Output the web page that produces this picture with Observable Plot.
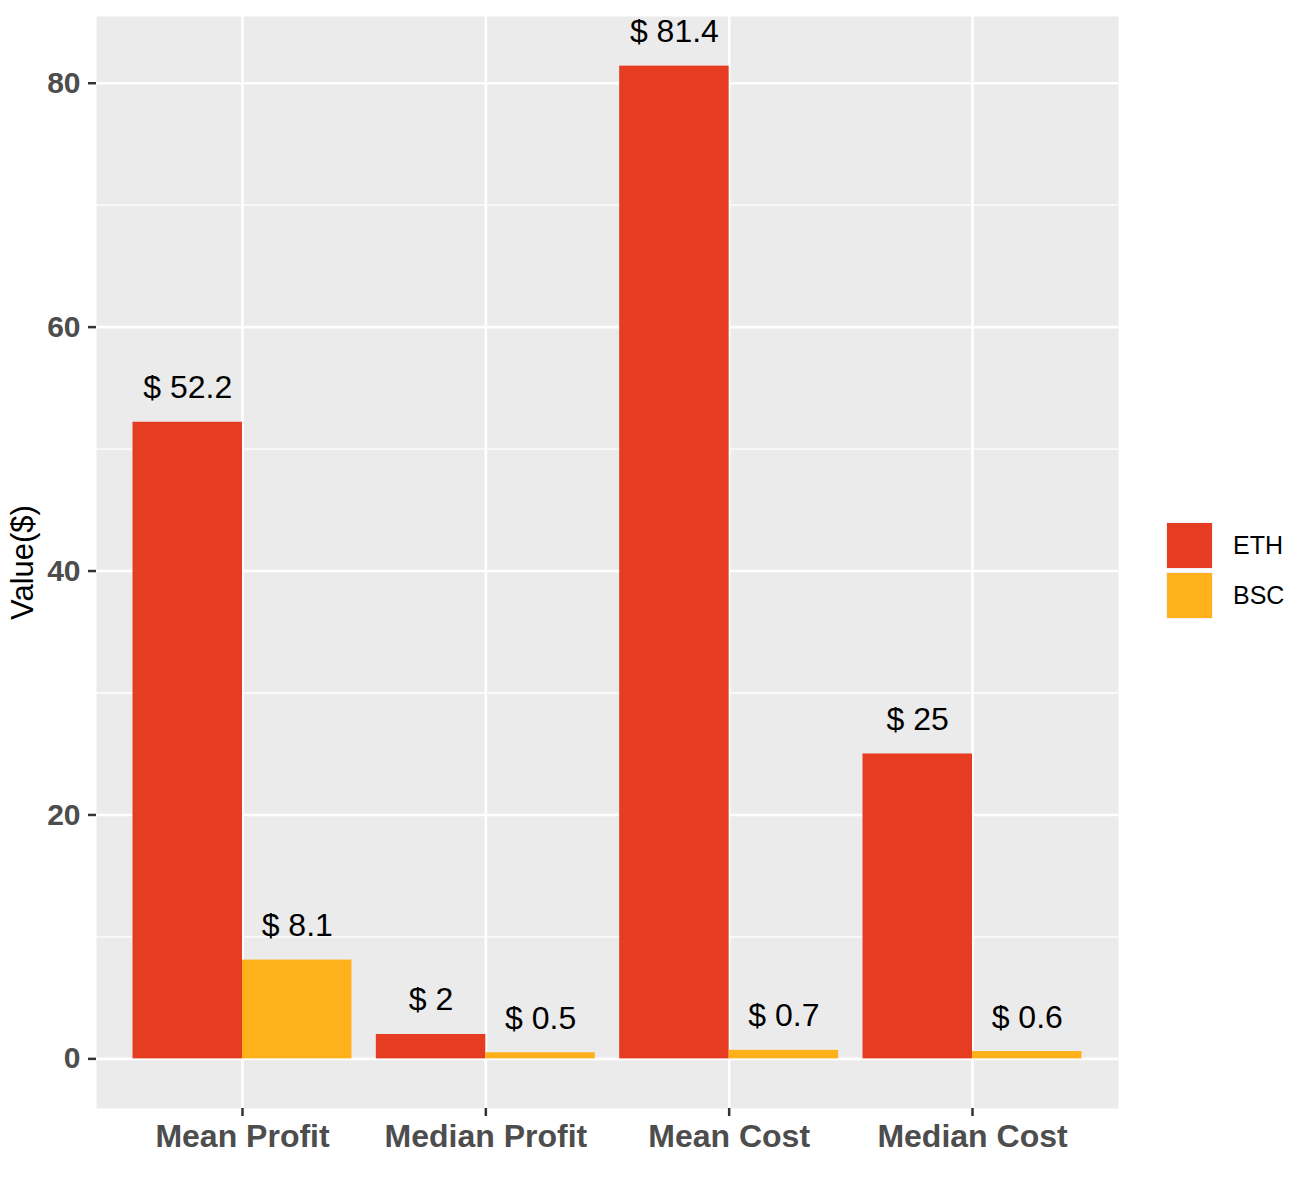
<!DOCTYPE html>
<html>
<head>
<meta charset="utf-8">
<script src="https://cdn.jsdelivr.net/npm/d3@7"></script>
<script src="https://cdn.jsdelivr.net/npm/@observablehq/plot@0.6"></script>
<style>
  html, body { margin: 0; padding: 0; background: white; }
  #wrap { position: relative; width: 1300px; height: 1190px; font-family: "Liberation Sans", Arial, Helvetica, sans-serif; }
  #legend { position: absolute; left: 1166px; top: 520px; }
  .item { display: flex; align-items: center; height: 50px; }
  .key { width: 45px; height: 45px; border: 1.5px solid #F2F2F2; box-sizing: content-box; }
  .lab { margin-left: 20px; font-size: 25px; color: #000; }
</style>
</head>
<body>
<div id="wrap"></div>
<script>
const categories = ["Mean Profit", "Median Profit", "Mean Cost", "Median Cost"];
const chains = ["ETH", "BSC"];
const ethValues = [52.2, 2, 81.4, 25];
const bscValues = [8.1, 0.5, 0.7, 0.6];
const colors = ["#E63C22", "#FEB11A"];
const yTicks = [0, 20, 40, 60, 80];
const yMinor = [10, 30, 50, 70];
const xTicks = [1, 2, 3, 4];

const rows = categories.flatMap((c, i) => [
  {category: c, pos: i + 1, chain: "ETH", value: ethValues[i]},
  {category: c, pos: i + 1, chain: "BSC", value: bscValues[i]}
]);
const half = 0.45;
const left = d => d.chain === "ETH" ? d.pos - half : d.pos;
const right = d => d.chain === "ETH" ? d.pos : d.pos + half;
const mid = d => (left(d) + right(d)) / 2;

const chart = Plot.plot({
  width: 1300,
  height: 1190,
  marginLeft: 96,
  marginRight: 182,
  marginTop: 16,
  marginBottom: 82,
  style: {fontFamily: "Liberation Sans, Arial, Helvetica, sans-serif", background: "white", overflow: "visible"},
  x: {type: "linear", domain: [0.4, 4.6]},
  y: {domain: [-4.07, 85.47]},
  color: {domain: chains, range: colors},
  marks: [
    Plot.frame({fill: "#EBEBEB", stroke: "none"}),
    Plot.gridY(yMinor, {stroke: "white", strokeOpacity: 1, strokeWidth: 1.3}),
    Plot.gridY(yTicks, {stroke: "white", strokeOpacity: 1, strokeWidth: 2.6}),
    Plot.gridX(xTicks, {stroke: "white", strokeOpacity: 1, strokeWidth: 2.6}),
    Plot.rectY(rows, {x1: left, x2: right, y: "value", fill: "chain"}),
    Plot.text(rows, {x: mid, y: "value", text: d => "$ " + d.value, dy: -24, lineAnchor: "bottom", fontSize: 32, fill: "black"}),
    Plot.axisY(yTicks, {tickSize: 8, tickPadding: 8, fontSize: 30, fontWeight: "bold", fill: "#4D4D4D", stroke: "#333333", strokeWidth: 2.5, label: null}),
    Plot.axisX(xTicks, {tickFormat: i => categories[i - 1], tickSize: 8, tickPadding: 7.5, fontSize: 32, fontWeight: "bold", fill: "#4D4D4D", stroke: "#333333", strokeWidth: 2.5, label: null}),
    Plot.text(["Value($)"], {frameAnchor: "left", textAnchor: "middle", dx: -73, rotate: -90, fontSize: 31, fill: "black"})
  ]
});

const wrap = document.getElementById("wrap");
wrap.appendChild(chart);

const legend = document.createElement("div");
legend.id = "legend";
chains.forEach((c, i) => {
  const item = document.createElement("div");
  item.className = "item";
  const key = document.createElement("div");
  key.className = "key";
  key.style.background = colors[i];
  const lab = document.createElement("span");
  lab.className = "lab";
  lab.textContent = c;
  item.appendChild(key);
  item.appendChild(lab);
  legend.appendChild(item);
});
wrap.appendChild(legend);
</script>
</body>
</html>
